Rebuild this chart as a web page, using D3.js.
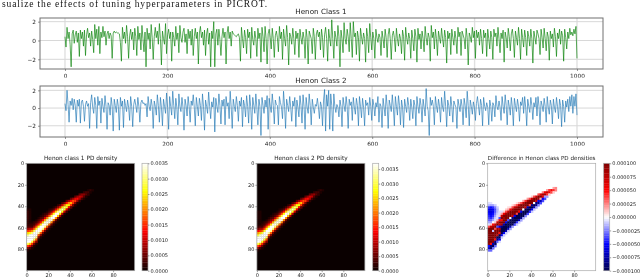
<!DOCTYPE html>
<html>
<head>
<meta charset="utf-8">
<script src="https://cdn.jsdelivr.net/npm/d3@7"></script>
<style>
  body { margin: 0; background: #fff; }
  svg { display: block; filter: blur(0.3px); }
  text { font-family: "DejaVu Sans", sans-serif; fill: #222; }
</style>
</head>
<body>
<svg id="chart" width="640" height="279"></svg>
<script>
// values, one every 2 steps
const class1 = [
  0.4,-0.7,1.4,0.2,0.9,-0.4,-2.8,0.7,1.1,-0.3,0.6,1.0,-0.2,0.8,-1.7,1.1,0.2,0.9,-0.6,1.1,-1.6,0.6,1.3,0.3,0.8,-0.6,1.0,0.1,-1.3,1.7,0.2,1.2,-0.5,1.5,-1.4,0.9,0.3,1.5,0.4,1.0,-0.5,0.7,1.0,0.2,0.8,0.5,-1.9,0.8,1.0,0.8,
  0.9,0.8,0.8,0.7,-0.2,-2.2,1.4,0.2,0.9,-0.3,1.6,0.4,-1.9,0.5,1.2,0.1,0.9,-1.0,1.3,0.4,-1.6,1.5,0.1,0.8,-1.0,1.6,0.2,-1.2,0.9,-2.8,1.3,0.1,0.8,-0.9,1.7,0.3,-2.0,0.4,1.4,0.3,1.0,-0.4,1.8,0.2,-2.6,1.0,0.2,-0.4,1.8,-1.4,
  0.6,1.2,0.2,0.9,-2.2,0.9,0.3,-0.6,1.5,0.1,0.8,-1.3,1.6,0.3,-0.2,0.9,1.3,-0.2,0.7,-1.4,1.2,0.2,1.0,-0.5,1.2,-1.6,0.4,1.3,0.2,0.9,-2.5,0.8,1.5,0.3,0.9,-0.5,1.1,-1.6,0.7,1.3,-0.4,0.8,-2.8,1.0,0.2,2.0,-2.8,0.7,1.2,-0.5,
  1.2,0.1,-1.6,0.4,1.3,0.3,0.9,-2.5,0.8,1.5,0.2,0.9,-0.6,1.0,0.7,0.6,0.5,0.4,0.6,0.7,0.3,-2.2,1.4,0.2,-0.8,1.1,0.3,-1.4,1.2,0.3,0.9,-1.9,1.4,0.1,-0.5,1.0,0.2,-1.7,1.3,0.2,0.8,-2.3,1.4,0.4,-1.2,1.5,0.2,-2.5,0.7,1.2,
  0.3,-0.9,1.3,0.2,-1.8,0.5,1.0,0.3,-1.2,1.5,0.2,0.9,-2.0,1.2,0.2,-0.6,1.6,0.3,-2.6,0.8,0.4,-0.4,1.3,0.2,-1.5,1.0,0.2,0.8,-1.8,1.2,0.3,-0.4,0.9,0.2,-1.9,1.2,0.3,-2.5,1.0,0.6,0.2,-1.4,1.3,0.4,-2.0,0.7,1.1,0.4,0.9,-1.0,
  1.2,0.3,-1.8,0.6,1.4,0.2,-2.2,1.2,0.2,-0.6,2.2,0.2,-1.9,1.0,0.3,-0.6,1.6,0.4,-2.8,1.1,0.2,-1.3,1.9,0.2,-0.4,1.2,0.4,-1.2,1.9,0.2,-1.8,2.0,0.4,0.8,-1.5,1.0,0.3,-2.2,1.3,0.4,-0.4,0.8,0.2,-2.3,1.3,0.4,-1.3,1.8,0.3,-1.0,
  0.9,0.2,-1.9,1.2,0.3,-0.2,0.7,0.3,-1.6,1.0,0.2,-0.8,1.2,0.3,-1.8,0.6,1.3,0.2,-2.0,0.5,1.0,0.3,-1.2,1.3,0.2,-0.6,0.7,0.2,-1.4,1.1,0.4,-2.1,1.4,0.3,-0.4,0.8,0.2,-1.9,1.1,0.2,-1.1,1.2,0.4,-2.3,1.3,0.1,0.7,-0.9,1.0,0.2,
  -1.2,1.5,0.3,-0.5,0.8,0.3,-2.2,1.6,0.3,0.9,-0.9,1.2,0.2,-1.6,1.0,0.3,-0.3,1.3,0.2,-0.7,1.1,0.3,-2.4,1.0,0.2,0.8,-1.5,1.2,0.3,-0.5,1.0,0.2,-1.4,1.4,0.4,0.9,-1.6,1.0,0.6,0.2,-0.9,1.3,0.3,-2.6,0.8,0.4,-0.2,1.4,0.3,1.0,
  -1.9,1.1,0.3,0.9,-0.5,1.2,0.2,-1.4,1.1,0.3,0.8,-1.7,1.2,0.2,-0.9,1.0,0.3,-2.0,1.2,0.4,0.8,-0.6,1.4,0.2,-1.3,0.8,0.2,1.1,-2.3,0.9,0.3,-0.8,1.3,0.4,-1.1,0.7,1.2,0.2,-1.8,1.0,0.3,-0.5,1.4,0.2,-2.0,1.2,0.3,-0.7,1.1,0.3,
  -1.6,1.0,0.4,-0.6,1.2,0.2,-2.4,1.0,0.3,-0.4,1.1,0.7,0.2,-1.5,1.2,0.3,-0.8,1.3,0.2,-1.1,0.9,0.4,-2.1,1.0,0.2,0.7,-0.7,1.3,0.4,-1.7,0.8,0.2,1.2,-0.4,1.0,0.5,-2.2,1.2,0.3,-0.9,0.9,0.2,1.3,0.6,0.9,0.5,1.2,0.7,1.5,-1.9
];
const class2 = [
  0.5,-0.3,2.0,0.4,-1.6,0.8,0.3,1.1,-0.2,1.0,0.3,-1.6,0.9,0.2,1.0,-1.7,0.7,0.9,0.2,-1.5,0.4,0.8,0.2,0.5,-2.3,0.6,1.5,0.1,-0.6,1.2,0.3,-2.3,1.3,0.3,0.8,-1.7,1.1,0.2,-0.5,1.4,0.2,-2.4,0.6,0.3,-0.8,1.2,0.2,-2.6,1.0,0.3,
  -0.5,1.0,0.2,-2.5,1.2,0.2,0.8,-2.2,1.0,0.3,-0.4,0.9,0.1,-1.4,1.3,0.2,-2.1,0.4,1.0,0.3,-0.5,1.2,0.2,-1.6,0.6,0.9,0.5,0.6,0.3,0.5,-1.0,1.3,0.2,-0.3,1.0,0.2,-2.3,0.8,0.2,-0.8,1.5,0.3,-1.6,1.2,0.1,-2.0,1.0,0.2,-0.6,1.7,
  0.1,-2.4,1.3,0.2,-0.8,1.9,0.3,-1.2,1.1,0.1,-1.9,1.6,0.2,-0.4,1.2,0.1,-2.5,1.0,0.3,-0.9,1.3,0.2,-1.6,0.8,0.3,1.5,0.1,-2.0,1.2,0.2,-0.9,1.1,0.3,-1.4,1.6,0.2,-2.5,0.9,0.2,-0.6,1.8,0.2,-1.2,0.7,0.1,1.2,-2.7,1.1,0.2,-0.5,
  1.6,0.3,-1.8,0.9,0.2,1.0,-1.9,1.3,0.2,0.6,-1.2,1.9,0.1,-2.3,1.0,0.2,-0.4,1.3,0.3,-1.5,0.8,0.2,1.2,-2.1,0.9,0.3,-1.0,1.4,0.2,-1.7,1.5,0.2,-2.4,1.2,0.3,-0.6,1.6,0.1,-1.9,1.0,0.2,-3.1,1.2,0.3,-0.6,0.9,0.1,1.4,-2.4,1.1,
  0.2,-0.5,1.6,0.3,-1.8,0.9,0.4,0.3,-1.9,1.3,0.6,0.1,-1.2,1.9,0.2,-2.3,1.0,0.3,-0.4,1.3,0.1,-1.5,0.8,0.2,1.2,-2.1,0.9,0.1,-1.0,1.4,0.3,-1.7,1.5,0.2,-2.4,1.2,0.1,-0.6,1.6,0.3,-1.9,1.0,0.1,-0.6,0.4,0.2,1.1,0.1,-1.2,0.7,
  0.2,-2.0,0.9,2.1,-2.6,1.5,0.2,2.0,-2.4,1.6,0.3,-2.6,1.6,0.2,-0.5,0.4,0.1,-1.0,0.9,0.2,-2.1,1.2,0.3,-0.4,1.3,0.2,-2.3,1.0,0.3,0.7,-1.4,1.2,0.1,-0.7,1.1,0.3,-2.0,1.3,0.2,-1.1,1.1,0.1,-2.0,0.9,0.3,0.6,-0.8,1.2,0.2,-1.4,
  1.0,0.3,-0.9,0.6,0.1,1.3,-1.6,0.5,0.2,-2.2,1.1,0.1,-0.9,1.5,0.2,-2.3,0.9,0.3,-0.4,1.5,0.1,-2.0,1.3,0.2,-0.8,1.4,0.3,-1.9,0.9,0.1,-2.2,1.0,0.2,-0.5,1.2,0.3,-1.4,1.0,0.1,-1.2,0.9,0.3,-2.0,1.3,0.2,-0.6,1.1,0.3,-1.6,1.0,
  0.1,-0.9,2.2,0.2,-0.3,-3.1,1.2,0.3,0.9,0.2,-1.9,1.3,0.3,-0.5,1.0,0.2,-1.6,1.2,0.1,-0.4,1.9,0.2,-2.1,0.9,0.3,-0.9,1.3,0.2,-1.6,0.8,0.4,0.1,-2.3,1.0,0.3,-0.4,1.0,0.2,-1.9,1.1,0.3,-1.1,1.9,0.3,-2.0,0.9,0.2,-0.7,0.7,0.1,
  -1.4,0.5,1.3,0.2,-0.8,1.0,0.3,-2.0,1.2,0.2,-0.3,0.6,0.1,-1.9,0.9,0.2,-1.5,0.6,0.3,-1.0,1.4,0.2,-0.2,0.8,0.1,-1.4,1.3,0.2,-0.6,1.5,0.3,-1.9,0.9,0.2,-0.8,1.2,0.1,-2.0,1.1,0.3,-0.4,1.0,0.2,-1.5,0.7,0.3,1.2,-0.6,1.3,0.1,
  -2.0,1.0,0.2,-0.5,1.2,0.3,-1.3,0.6,0.1,1.2,-0.9,1.3,0.2,-1.9,0.8,0.3,-0.4,1.1,0.2,-1.6,1.3,0.1,-0.7,0.9,0.3,-1.8,1.0,0.1,-0.5,1.2,0.2,-1.2,1.0,0.3,-2.1,0.9,0.2,-1.6,0.8,0.1,1.0,-0.4,1.3,0.2,1.5,-0.6,1.3,0.2,1.6,-0.8
];
const lineTicks = [0, 200, 400, 600, 800, 1000];
const lineYTicks = [-2, 0, 2];

// density columns: every 2nd column, first row of each column, then every 2nd row (unit 1e-4)
const density1Start = [42,42,54,54,52,50,48,46,46,44,42,42,40,40,38,38,36,36,34,34,32,32,30,30,28,28,26,26,24,24,24];
const density1 = [
  [1,2,2,2,2,2,2,2,3,7,14,22,28,33,36,34,26,14,5,1],
  [1,1,1,1,1,1,1,2,3,8,15,24,31,36,37,32,21,10,3],
  [1,2,3,9,18,27,34,37,35,26,14,5,1],
  [2,3,7,16,26,34,37,35,27,15,5,1],
  [1,3,7,15,25,34,36,36,28,16,6,1],
  [1,3,6,13,24,33,36,29,16,6,1],
  [1,3,6,12,22,32,35,29,16,6,1],
  [1,2,4,11,21,31,34,28,15,5,1],
  [2,4,10,20,30,34,28,15,5,1],
  [1,3,8,18,29,34,30,16,5,1],
  [1,3,7,16,28,34,31,17,5,1],
  [2,6,14,26,33,31,18,5,1],
  [1,4,12,24,32,32,18,5,1],
  [3,10,21,31,33,19,5,1],
  [2,7,17,28,33,21,6,1],
  [4,13,25,32,23,8,1],
  [3,10,22,30,24,9,1],
  [6,17,27,25,10,1],
  [4,12,23,25,11,2],
  [7,18,23,12,3],
  [4,12,20,14,4],
  [7,15,14,5],
  [4,11,14,6,1],
  [7,12,7,1],
  [4,9,8,2],
  [6,8,3],
  [2,6,4,1],
  [3,4,1],
  [1,3,2],
  [2,1],
  [1]
];
const density2Start = [44,44,54,54,52,50,48,46,46,44,42,42,40,40,38,38,36,36,34,34,32,32,30,30,28,28,26,26,24,24,24];
const density2 = [
  [1,1,1,1,1,1,1,2,5,12,20,27,33,37,36,27,15,6,1],
  [1,1,1,1,1,1,1,3,7,14,23,31,37,39,33,22,11,3],
  [1,2,3,8,17,27,35,39,36,26,14,5,1],
  [2,3,7,15,26,35,39,36,27,15,5,1],
  [1,3,7,15,25,35,39,37,28,16,6,1],
  [1,3,6,13,24,34,38,30,17,6,1],
  [1,3,6,12,23,33,37,30,17,6,1],
  [1,2,4,10,21,32,36,29,16,5,1],
  [2,4,10,20,31,36,29,16,5,1],
  [1,3,8,18,30,36,30,17,5,1],
  [1,3,7,17,29,36,32,18,5,1],
  [2,6,15,27,35,33,19,5,1],
  [1,4,12,25,34,34,19,5,1],
  [3,10,22,33,35,20,5,1],
  [2,7,18,30,35,22,6,1],
  [4,13,27,34,25,9,1],
  [3,11,24,32,26,10,1],
  [6,18,29,27,11,1],
  [4,13,25,27,12,2],
  [7,19,25,13,3],
  [4,13,22,15,4],
  [7,16,15,5],
  [4,12,15,6,1],
  [7,13,8,1],
  [4,10,9,2],
  [6,9,3],
  [2,7,4,1],
  [3,4,1],
  [1,3,2],
  [2,1],
  [1]
];
// difference columns, unit 1e-6
const diffStart = [36,36,38,38,40,44,44,44,42,40,40,38,38,36,36,36,34,34,32,32,30,30,30,28,28,26,26,24,24,24,22,22];
const diff = [
  [-5,-12,-35,-45,-45,-40,-35,-30,-25,-15,-5,30,90,110,130,130,130,130,120,80,-40,-55,-25],
  [-5,-15,-40,-50,-50,-45,-40,-35,-25,-15,10,60,100,120,130,130,130,130,110,40,-70,-80,-25],
  [-15,-35,-45,-45,-40,-35,-25,-15,0,40,70,100,-10,90,130,130,130,80,-60,-80,-25],
  [-8,-22,-30,-28,-22,-15,-8,-5,10,60,100,30,110,120,130,125,40,-70,-80,-25],
  [-8,-12,-12,-8,-5,-5,15,60,90,-30,70,120,120,60,-80,-70,-25],
  [-5,-5,8,-30,45,100,60,-50,60,110,40,-90,-100,-45,-5],
  [-5,15,60,90,45,100,70,-70,-100,-90,-100,-45,-8],
  [8,45,90,70,110,85,-60,-130,-140,-110,-45,-8],
  [8,30,70,100,110,100,-45,-130,-140,-130,-60,-8],
  [5,15,60,90,130,85,-30,-130,-140,-130,-60,-8],
  [8,45,90,130,110,0,-110,-140,-130,-60,-15],
  [5,30,70,130,130,60,-70,-140,-140,-90,-15],
  [15,60,100,130,100,-45,-140,-140,-100,-30],
  [5,30,70,110,110,30,-110,-140,-110,-35,-8],
  [15,60,100,130,45,-90,-140,-130,-60,-8],
  [30,85,130,85,-45,-140,-130,-70,-15],
  [15,60,120,120,0,-130,-140,-90,-15],
  [35,100,135,60,-100,-140,-90,-20],
  [15,70,130,100,-60,-130,-100,-30],
  [30,100,130,30,-110,-110,-35],
  [8,60,120,85,-70,-110,-45,-8],
  [30,90,105,0,-100,-60,-8],
  [60,100,60,-70,-70,-15],
  [30,85,70,-45,-70,-20],
  [50,85,15,-60,-30],
  [20,70,50,-45,-30],
  [45,70,-15,-30],
  [15,60,35,-15],
  [35,50,8],
  [45,30],
  [15,35,8],
  [20,20]
];
const heatTicks = [0, 20, 40, 60, 80];
const cbarTicks1 = [0, 0.0005, 0.001, 0.0015, 0.002, 0.0025, 0.003, 0.0035];
const cbarTicks3 = [-0.0001, -0.000075, -0.00005, -0.000025, 0, 0.000025, 0.00005, 0.000075, 0.0001];

const svg = d3.select("#chart");

// caption line from the paper above the figure
svg.append("text")
  .attr("x", 2).attr("y", 6.6)
  .attr("textLength", 265)
  .style("font-family", '"Liberation Serif", serif')
  .style("font-size", "9.5px")
  .style("fill", "#111")
  .text("sualize the effects of tuning hyperparameters in PICROT.");

function linePanel(values, color, title, top, bottom, yDomain, titleY) {
  const x = d3.scaleLinear().domain([-48.8, 1050.8]).range([40, 603]);
  const y = d3.scaleLinear().domain(yDomain).range([bottom, top]);
  const g = svg.append("g");
  const step = 1000 / (values.length - 1);

  g.append("g").selectAll("line").data(lineTicks).join("line")
    .attr("x1", d => x(d)).attr("x2", d => x(d))
    .attr("y1", top).attr("y2", bottom)
    .attr("stroke", "#e0e0e0").attr("stroke-width", 1.4);
  g.append("g").selectAll("line").data(lineYTicks).join("line")
    .attr("x1", 40).attr("x2", 603)
    .attr("y1", d => y(d)).attr("y2", d => y(d))
    .attr("stroke", "#d8d8d8").attr("stroke-width", 1);

  g.append("path")
    .attr("d", d3.line().x((d, i) => x(i * step)).y(d => y(d))(values))
    .attr("fill", "none")
    .attr("stroke", color)
    .attr("stroke-width", 0.7)
    .attr("stroke-opacity", 0.95);

  g.append("rect")
    .attr("x", 40).attr("y", top)
    .attr("width", 563).attr("height", bottom - top)
    .attr("fill", "none").attr("stroke", "#707070").attr("stroke-width", 1);

  const xAxis = g.append("g")
    .attr("transform", `translate(0,${bottom})`)
    .call(d3.axisBottom(x).tickValues(lineTicks).tickSize(2).tickPadding(3).tickFormat(d3.format("d")));
  const yAxis = g.append("g")
    .attr("transform", "translate(40,0)")
    .call(d3.axisLeft(y).tickValues(lineYTicks).tickSize(2).tickPadding(2).tickFormat(d => d < 0 ? "\u2212" + (-d) : d));
  for (const a of [xAxis, yAxis]) {
    a.select(".domain").remove();
    a.selectAll("line").attr("stroke", "#555").attr("stroke-width", 0.6);
    a.selectAll("text").style("font-size", "5.8px").style("font-family", '"DejaVu Sans"');
  }

  // the tick labels are cut off by the subplot below in the source image
  g.append("rect")
    .attr("x", 40).attr("y", bottom + 8.6)
    .attr("width", 600).attr("height", 4)
    .attr("fill", "#fff");

  g.append("text")
    .attr("x", 321).attr("y", titleY)
    .attr("text-anchor", "middle")
    .style("font-size", "7.2px")
    .text(title);
}

linePanel(class1, "#078207", "Henon Class 1", 18, 69, [-3.03, 2.39], 14.4);
linePanel(class2, "#2379b5", "Henon Class 2", 86, 137, [-3.27, 2.49], 82.7);

function heatPanel(opts) {
  const x = d3.scaleLinear().domain([0, 100]).range([opts.left, opts.left + 108]);
  const y = d3.scaleLinear().domain([0, 100]).range([163.3, 270.7]);
  const g = svg.append("g");

  g.append("rect")
    .attr("x", opts.left).attr("y", 163.3)
    .attr("width", 108).attr("height", 107.4)
    .attr("fill", opts.color(0));

  const cells = [];
  opts.columns.forEach((col, i) => {
    col.forEach((v, j) => cells.push({ col: i * 2, row: opts.start[i] + j * 2, v: v * opts.unit }));
  });
  g.append("g")
    .style("filter", `blur(${opts.blur}px)`)
    .selectAll("rect").data(cells).join("rect")
    .attr("x", d => x(d.col))
    .attr("y", d => y(d.row))
    .attr("width", x(2) - x(0) + 0.3)
    .attr("height", y(2) - y(0) + 0.3)
    .attr("fill", d => opts.color(d.v));

  g.append("rect")
    .attr("x", opts.left).attr("y", 163.3)
    .attr("width", 108).attr("height", 107.4)
    .attr("fill", "none").attr("stroke", "#aaa").attr("stroke-width", 0.7);

  const xAxis = g.append("g").attr("transform", "translate(0,270.7)")
    .call(d3.axisBottom(x).tickValues(heatTicks).tickSize(1.5).tickPadding(1));
  const yAxis = g.append("g").attr("transform", `translate(${opts.left},0)`)
    .call(d3.axisLeft(y).tickValues(heatTicks).tickSize(1.5).tickPadding(1));
  for (const a of [xAxis, yAxis]) {
    a.select(".domain").remove();
    a.selectAll("line").attr("stroke", "#444").attr("stroke-width", 0.5);
    a.selectAll("text").style("font-size", "5px").style("font-family", '"DejaVu Sans"');
  }

  g.append("text")
    .attr("x", opts.left + 54).attr("y", 160)
    .attr("text-anchor", "middle")
    .style("font-size", opts.titleSize)
    .text(opts.title);

  // colorbar
  const cy = d3.scaleLinear().domain(opts.cbarDomain).range([270.7, 163.3]);
  const levels = d3.range(0, 64);
  const levelH = 107.4 / levels.length;
  g.append("g").selectAll("rect").data(levels).join("rect")
    .attr("x", opts.cbarLeft)
    .attr("y", d => 270.7 - (d + 1) * levelH)
    .attr("width", opts.cbarWidth)
    .attr("height", levelH + 0.3)
    .attr("fill", d => opts.color(opts.cbarDomain[0] + (d + 0.5) / levels.length * (opts.cbarDomain[1] - opts.cbarDomain[0])));
  g.append("rect")
    .attr("x", opts.cbarLeft).attr("y", 163.3)
    .attr("width", opts.cbarWidth).attr("height", 107.4)
    .attr("fill", "none").attr("stroke", "#aaa").attr("stroke-width", 0.7);
  const cAxis = g.append("g").attr("transform", `translate(${opts.cbarLeft + opts.cbarWidth},0)`)
    .call(d3.axisRight(cy).tickValues(opts.cbarTicks).tickSize(1.5).tickPadding(1).tickFormat(opts.cbarFormat));
  cAxis.select(".domain").remove();
  cAxis.selectAll("line").attr("stroke", "#444").attr("stroke-width", 0.5);
  cAxis.selectAll("text").style("font-size", "5px").style("font-family", '"DejaVu Sans"');
}

function hot(max) {
  return d3.scaleLinear()
    .domain([0, 0.37 * max, 0.74 * max, max])
    .range(["#0a0000", "#ff0000", "#ffff00", "#ffffff"])
    .clamp(true);
}
const seismic = d3.scaleLinear()
  .domain([-0.0001, -0.00005, 0, 0.00005, 0.0001])
  .range(["#00004d", "#0000ff", "#ffffff", "#ff0000", "#800000"])
  .clamp(true);
const fmt4 = d3.format(".4f");
const fmt6 = v => (v < 0 ? "\u2212" : "") + Math.abs(v).toFixed(6);

heatPanel({
  left: 26.7, title: "Henon class 1 PD density", titleSize: "5.8px", columns: density1, start: density1Start, unit: 1.1e-4, blur: 0.6,
  color: hot(0.0035), cbarDomain: [0, 0.0035], cbarTicks: cbarTicks1, cbarFormat: fmt4, cbarLeft: 142, cbarWidth: 6
});
heatPanel({
  left: 256.9, title: "Henon class 2 PD density", titleSize: "5.8px", columns: density2, start: density2Start, unit: 1.1e-4, blur: 0.6,
  color: hot(0.0037), cbarDomain: [0, 0.0037], cbarTicks: cbarTicks1, cbarFormat: fmt4, cbarLeft: 372.7, cbarWidth: 6
});
heatPanel({
  left: 487.7, title: "Difference in Henon class PD densities", titleSize: "5.6px", columns: diff, start: diffStart, unit: 1.2e-6, blur: 0.3,
  color: seismic, cbarDomain: [-0.0001, 0.0001], cbarTicks: cbarTicks3, cbarFormat: fmt6, cbarLeft: 603.7, cbarWidth: 6
});
</script>
</body>
</html>
